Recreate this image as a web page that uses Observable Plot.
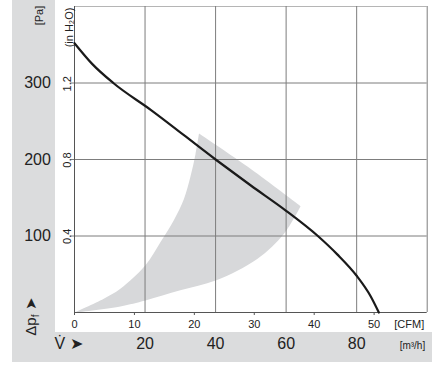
<!DOCTYPE html>
<html>
<head>
<meta charset="utf-8">
<script src="https://cdn.jsdelivr.net/npm/d3@7"></script>
<script src="https://cdn.jsdelivr.net/npm/@observablehq/plot@0.6"></script>
<style>
  html, body { margin: 0; padding: 0; background: #fff; }
  #wrap { position: relative; width: 437px; height: 369px; overflow: hidden; font-family: "Liberation Sans", Arial, sans-serif; }
  .band { position: absolute; background: #dbdcdd; }
  #chart { position: absolute; left: 0; top: 0; }
</style>
</head>
<body>
<div id="wrap">
  <div class="band" style="left:12px; top:0; width:43px; height:362px;"></div>
  <div class="band" style="left:12px; top:332px; width:420px; height:30px;"></div>
  <div id="chart"></div>
</div>
<script>
// Data
const M3H_PER_CFM = 1.699;
const cfmTicks = [0, 10, 20, 30, 40, 50];
const m3hTicks = [20, 40, 60, 80];
const m3hGrid = [20, 40, 60, 80, 100];
const paTicks = [100, 200, 300];
const inH2OTicks = [0.4, 0.8, 1.2];
const PA_PER_INH2O = 249.09;

// Fan curve: airflow (m³/h) vs static pressure (Pa)
const curveQ  = [0, 5, 11, 21.6, 40, 50, 60, 69, 74.5, 80, 84, 86.3];
const curvePa = [352, 325, 300, 265, 200, 166, 133, 100, 76, 48, 21, 0];

// Shaded operating region outline (m³/h, Pa); corners listed twice to keep them sharp
const regionQ  = [0, 8.3, 13, 20, 24.4, 28.2, 31, 32.9, 34.3, 35.3, 35.3, 49.9, 64.1, 64.1, 59.4, 51.8, 40.2, 30, 20.1, 13, 0];
const regionPa = [0, 18, 31, 61, 92, 121, 148, 178, 207, 234, 234, 188, 139, 139, 103, 70, 42, 29, 15.7, 8, 0];

const curve = curveQ.map((q, i) => ({q, pa: curvePa[i]}));
const region = regionQ.map((q, i) => ({q, pa: regionPa[i]}));

const textColor = "#222";
const gridColor = "#7d7d7d";

const plot = Plot.plot({
  width: 437,
  height: 369,
  marginLeft: 74,
  marginRight: 10.3,
  marginTop: 6,
  marginBottom: 57,
  x: {domain: [0, 100], axis: null},
  y: {domain: [0, 400], axis: null},
  style: {background: "transparent", fontFamily: "'Liberation Sans', Arial, sans-serif", color: textColor},
  marks: [
    Plot.line(region, {x: "q", y: "pa", fill: "#d7d8da", stroke: "none", curve: "catmull-rom"}),
    Plot.ruleY([400], {stroke: "#b5b5b5", strokeWidth: 1}),
    Plot.ruleX(m3hGrid, {stroke: gridColor, strokeWidth: 1}),
    Plot.ruleY(paTicks, {x1: -1.2, x2: 100, stroke: gridColor, strokeWidth: 1}),
    Plot.ruleX([0], {stroke: "#555", strokeWidth: 1}),
    Plot.ruleY([0], {stroke: "#555", strokeWidth: 1}),
    Plot.axisX(cfmTicks.map(c => c * M3H_PER_CFM), {
      tickFormat: d => String(Math.round(d / M3H_PER_CFM)),
      tickSize: 3, tickPadding: 5, fontSize: 11, label: null, stroke: "#555"
    }),
    Plot.text(["[CFM]"], {frameAnchor: "bottom-right", dx: -3, dy: 15, textAnchor: "end", fontSize: 11}),
    Plot.text(m3hTicks, {x: d => d, text: d => String(d), frameAnchor: "bottom", dy: 36, textAnchor: "middle", fontSize: 16}),
    Plot.text(["[m³/h]"], {frameAnchor: "bottom-right", dx: -2, dy: 36, textAnchor: "end", fontSize: 10}),
    Plot.text(["V\u0307 ➤"], {frameAnchor: "bottom-left", dx: -6, dy: 36, textAnchor: "middle", fontSize: 16}),
    Plot.text(paTicks, {y: d => d, text: d => String(d), frameAnchor: "left", dx: -37, textAnchor: "middle", fontSize: 16}),
    Plot.text(inH2OTicks, {y: d => d * PA_PER_INH2O, text: d => d.toFixed(1), frameAnchor: "left", dx: -7, textAnchor: "middle", rotate: -90, fontSize: 11}),
    Plot.text(["[Pa]"], {frameAnchor: "top-left", dx: -39, dy: 9, textAnchor: "middle", rotate: -90, fontSize: 11}),
    Plot.text(["(in H₂O)"], {frameAnchor: "top-left", dx: -9.5, dy: 21, textAnchor: "middle", rotate: -90, fontSize: 11}),
    Plot.text(["Δpf ➤"], {frameAnchor: "bottom-left", dx: -39, dy: 4, textAnchor: "middle", rotate: -90, fontSize: 15}),
    Plot.line(curve, {x: "q", y: "pa", stroke: "#1a1a1a", strokeWidth: 2.2, curve: "monotone-x"})
  ]
});

// subscript f in Δpf
plot.querySelectorAll("text").forEach(t => {
  if (t.textContent === "Δpf ➤") {
    t.textContent = "";
    const ns = "http://www.w3.org/2000/svg";
    const a = document.createElementNS(ns, "tspan"); a.textContent = "Δp";
    const b = document.createElementNS(ns, "tspan"); b.textContent = "f"; b.setAttribute("font-size", "10"); b.setAttribute("dy", "3");
    const c = document.createElementNS(ns, "tspan"); c.textContent = " ➤"; c.setAttribute("dy", "-3");
    t.append(a, b, c);
  }
});

document.getElementById("chart").append(plot);
</script>
</body>
</html>
